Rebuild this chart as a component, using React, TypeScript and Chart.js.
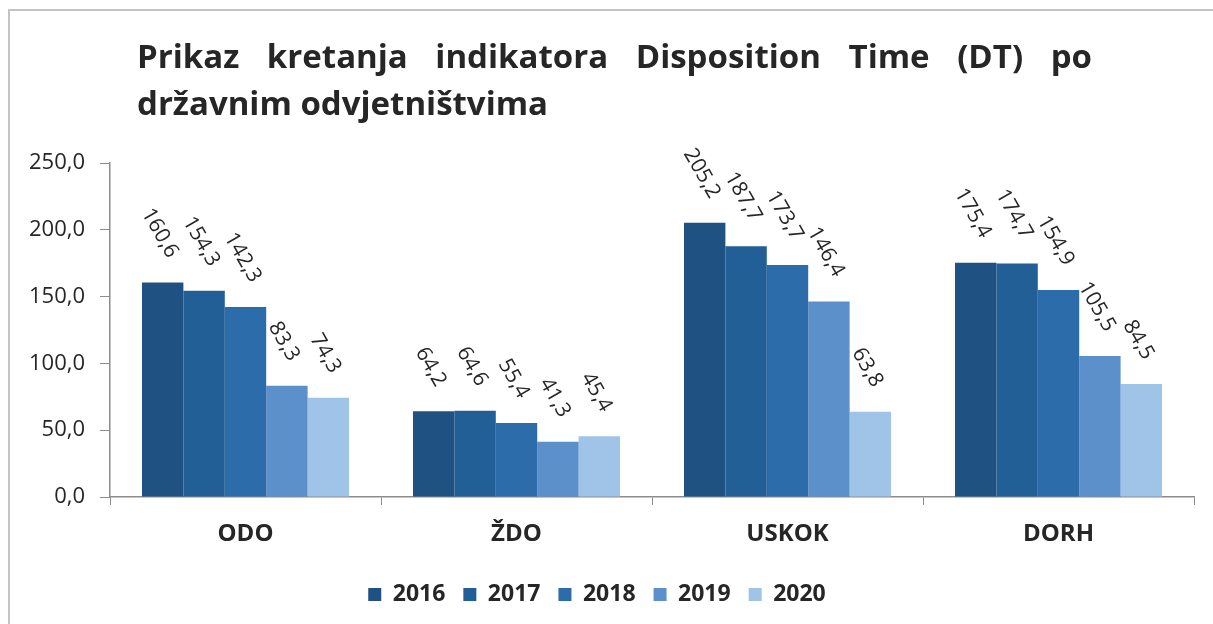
import React, { useEffect, useRef } from "react";
import { Chart, registerables } from "chart.js";

Chart.register(...registerables);

const categories = ["ODO", "ŽDO", "USKOK", "DORH"];
const years = ["2016", "2017", "2018", "2019", "2020"];
const values2016 = [160.6, 64.2, 205.2, 175.4];
const values2017 = [154.3, 64.6, 187.7, 174.7];
const values2018 = [142.3, 55.4, 173.7, 154.9];
const values2019 = [83.3, 41.3, 146.4, 105.5];
const values2020 = [74.3, 45.4, 63.8, 84.5];
const seriesValues = [values2016, values2017, values2018, values2019, values2020];
const seriesColors = ["#1f5282", "#235f97", "#2c6cab", "#5b90cb", "#a0c3e8"];
const titleLine1 = "Prikaz kretanja indikatora Disposition Time (DT) po";
const titleLine2 = "državnim odvjetništvima";

const FONT = "'Open Sans', Lato, sans-serif";
const TEXT = "#262626";
const AXIS = "#8c8c8c";

const fmt = (v: number) => v.toFixed(1).replace(".", ",");

const decorPlugin = {
  id: "decor",
  afterDraw(chart: any) {
    const ctx = chart.ctx;
    ctx.save();
    // frame
    ctx.strokeStyle = "#c4c4c4";
    ctx.lineWidth = 2;
    ctx.beginPath();
    ctx.moveTo(9, 624);
    ctx.lineTo(9, 10);
    ctx.lineTo(1213, 10);
    ctx.stroke();

    // title (justified first line)
    ctx.fillStyle = TEXT;
    ctx.font = `bold 33px ${FONT}`;
    ctx.textBaseline = "alphabetic";
    ctx.textAlign = "left";
    const words = titleLine1.split(" ");
    const x0 = 137;
    const x1 = 1092;
    const widths = words.map((w) => ctx.measureText(w).width);
    const total = widths.reduce((a, b) => a + b, 0);
    const gap = (x1 - x0 - total) / (words.length - 1);
    let x = x0;
    words.forEach((w, i) => {
      ctx.fillText(w, x, 68);
      x += widths[i] + gap;
    });
    ctx.fillText(titleLine2, x0, 115);

    // rotated data labels
    ctx.font = `21px ${FONT}`;
    ctx.textAlign = "center";
    ctx.textBaseline = "middle";
    const ang = (60 * Math.PI) / 180;
    chart.data.datasets.forEach((ds: any, di: number) => {
      const meta = chart.getDatasetMeta(di);
      meta.data.forEach((bar: any, i: number) => {
        const txt = fmt(ds.data[i]);
        const L = ctx.measureText(txt).width;
        const h = 21;
        const rectH = L * Math.sin(ang) + h * Math.cos(ang);
        const cx = bar.x - 3;
        const cy = bar.y - 21 - rectH / 2;
        ctx.save();
        ctx.translate(cx, cy);
        ctx.rotate(ang);
        ctx.fillText(txt, 0, 0);
        ctx.restore();
      });
    });
    ctx.restore();
  },
};

export default function App() {
  const ref = useRef<HTMLCanvasElement | null>(null);

  useEffect(() => {
    let chart: Chart | null = null;
    let cancelled = false;
    const make = () => {
      if (cancelled || !ref.current) return;
      chart = new Chart(ref.current, {
        type: "bar",
        data: {
          labels: categories,
          datasets: years.map((y, i) => ({
            label: y,
            data: seriesValues[i],
            backgroundColor: seriesColors[i],
            borderWidth: 0,
            categoryPercentage: 0.764,
            barPercentage: 1,
          })),
        },
        options: {
          responsive: false,
          animation: false,
          layout: { padding: { top: 163, right: 19, left: 0, bottom: 8 } },
          plugins: {
            title: { display: false },
            tooltip: { enabled: false },
            legend: {
              position: "bottom",
              labels: {
                boxWidth: 13,
                boxHeight: 13,
                padding: 18,
                color: TEXT,
                font: { family: FONT, size: 23, weight: "bold" },
              },
            },
          },
          scales: {
            x: {
              grid: { drawOnChartArea: false, offset: true, tickLength: 8, color: AXIS },
              border: { color: AXIS, width: 1.5 },
              ticks: { color: TEXT, padding: 15, font: { family: FONT, size: 24, weight: "bold" } },
              afterFit: (s: any) => {
                s.height = 68;
              },
            },
            y: {
              min: 0,
              max: 250,
              ticks: {
                stepSize: 50,
                color: TEXT,
                padding: 15,
                font: { family: FONT, size: 22 },
                callback: (v: any) => fmt(Number(v)),
              },
              grid: { drawOnChartArea: false, tickLength: 10, color: AXIS },
              border: { color: AXIS, width: 1.5 },
              afterFit: (s: any) => {
                s.width = 110;
              },
            },
          },
        },
        plugins: [decorPlugin],
      });
    };
    const fonts: any = (document as any).fonts;
    if (fonts && fonts.load) {
      Promise.all([
        fonts.load(`bold 33px 'Open Sans'`),
        fonts.load(`21px 'Open Sans'`),
      ]).then(make, make);
    } else {
      make();
    }
    return () => {
      cancelled = true;
      if (chart) chart.destroy();
    };
  }, []);

  return (
    <div style={{ position: "fixed", left: 0, top: 0, width: 1213, height: 624, background: "#fff" }}>
      <canvas ref={ref} width={1213} height={624} style={{ display: "block" }} />
    </div>
  );
}
